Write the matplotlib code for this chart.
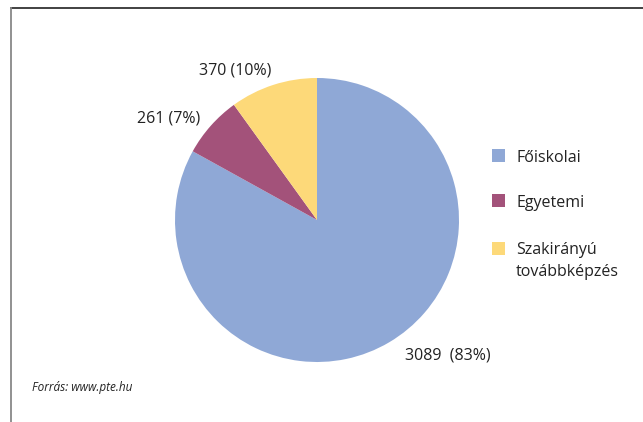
import matplotlib
matplotlib.use("Agg")
import matplotlib.pyplot as plt
from matplotlib.patches import Rectangle
from matplotlib.lines import Line2D

plt.rcParams['font.family'] = ['Open Sans', 'DejaVu Sans']

categories = ["Főiskolai", "Egyetemi", "Szakirányú\ntovábbképzés"]
values = [3089, 261, 370]
colors = ["#8FA8D6", "#A3527A", "#FDD979"]
label_formats = ["{v}  ({p}%)", "{v} ({p}%)", "{v} ({p}%)"]
source = "Forrás: www.pte.hu"

W, H = 643, 422
fig = plt.figure(figsize=(W / 100, H / 100), dpi=100)
fig.patch.set_facecolor("white")

# outer frame: top rule and left rule
fig.add_artist(Line2D([11 / W, 1], [1 - 8 / H, 1 - 8 / H], transform=fig.transFigure,
                      color="#333333", lw=1.3))
fig.add_artist(Line2D([11 / W, 11 / W], [0, 1 - 8 / H], transform=fig.transFigure,
                      color="#888888", lw=1.3))

cx, cy, r = 317, 220, 142
ax = fig.add_axes([(cx - r) / W, (H - cy - r) / H, 2 * r / W, 2 * r / H])
wedges, _ = ax.pie(values, colors=colors, startangle=90, counterclock=False,
                   radius=1, wedgeprops=dict(linewidth=0))
ax.set_xlim(-1, 1)
ax.set_ylim(-1, 1)
ax.set_aspect("equal")
ax.axis("off")

total = sum(values)
pcts = [round(v * 100 / total) for v in values]
texts = [fmt.format(v=v, p=p) for fmt, v, p in zip(label_formats, values, pcts)]

# value labels placed around the pie
label_pos = [(0.919, -0.951, "center"), (-0.824, 0.718, "right"), (-0.574, 1.05, "center")]
for t, (x, y, ha) in zip(texts, label_pos):
    ax.text(x, y, t, ha=ha, va="center", fontsize=11.5, color="#222222", clip_on=False)

# legend
sq_centers = [155.5, 200.5, 248]
baselines = [162, 207, 254]
for lab, col, yc, yb in zip(categories, colors, sq_centers, baselines):
    fig.add_artist(Rectangle((492 / W, (H - yc - 6.5) / H), 13 / W, 13 / H,
                             transform=fig.transFigure, facecolor=col, edgecolor="none"))
    for i, line in enumerate(lab.split("\n")):
        fig.text(516 / W, (H - yb - 22.5 * i) / H, line, ha="left", va="baseline",
                 fontsize=11.5, color="#222222")

fig.text(32 / W, (H - 387) / H, source, ha="left", va="center", fontsize=8.5,
         style="italic", color="#222222")

fig.savefig("out.png", dpi=100)
